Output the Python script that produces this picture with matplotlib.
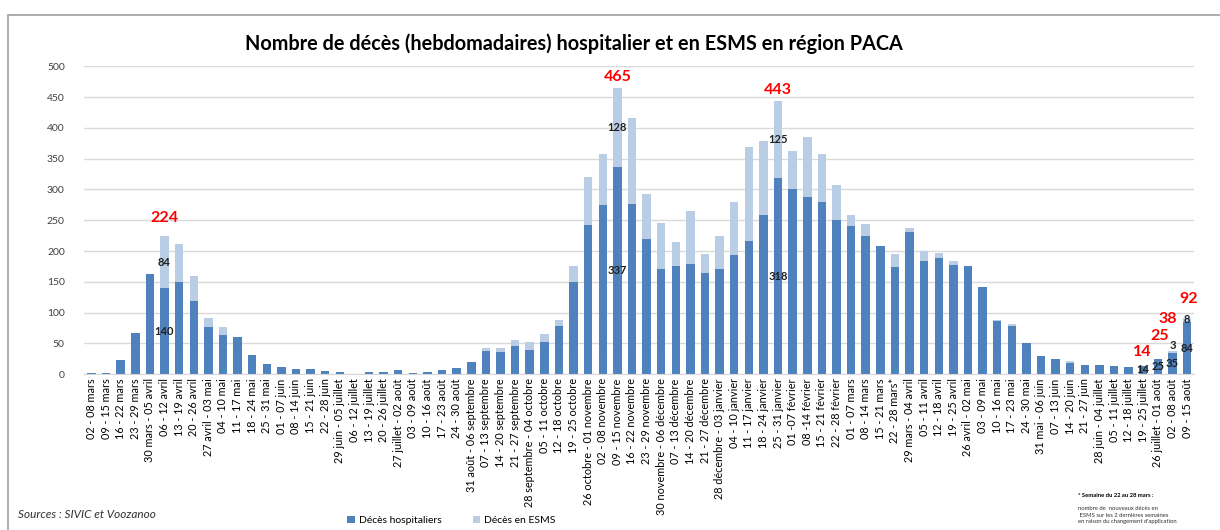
import matplotlib.pyplot as plt
from matplotlib.patches import Rectangle

plt.rcParams['font.family'] = ['Lato', 'DejaVu Sans']

semaines = [
    "02 - 08 mars", "09 - 15 mars", "16 - 22 mars", "23 - 29 mars", "30 mars - 05 avril",
    "06 - 12 avril", "13 - 19 avril", "20 - 26 avril", "27 avril - 03 mai", "04 - 10 mai",
    "11 - 17 mai", "18 - 24 mai", "25 - 31 mai", "01 - 07 juin", "08 - 14 juin",
    "15 - 21 juin", "22 - 28 juin", "29 juin - 05 juillet", "06 - 12 juillet", "13 - 19 juillet",
    "20 - 26 juillet", "27 juillet - 02 août", "03 - 09 août", "10 - 16 août", "17 - 23 août",
    "24 - 30 août", "31 août - 06 septembre", "07 - 13 septembre", "14 - 20 septembre",
    "21 - 27 septembre", "28 septembre - 04 octobre", "05 - 11 octobre", "12 - 18 octobre",
    "19 - 25 octobre", "26 octobre - 01 novembre", "02 - 08 novembre", "09 - 15 novembre",
    "16 - 22 novembre", "23 - 29 novembre", "30 novembre - 06 décembre", "07 - 13 décembre",
    "14 - 20 décembre", "21 - 27 décembre", "28 décembre - 03 janvier", "04 - 10 janvier",
    "11 - 17 janvier", "18 - 24 janvier", "25 - 31 janvier", "01 -07 février", "08 -14 février",
    "15 - 21 février", "22 - 28 février", "01 - 07 mars", "08 - 14 mars", "15 - 21 mars",
    "22 - 28 mars*", "29 mars - 04 avril", "05 - 11 avril", "12 - 18 avril", "19 - 25 avril",
    "26 avril - 02 mai", "03 - 09 mai", "10 - 16 mai", "17 - 23 mai", "24 - 30 mai",
    "31 mai - 06 juin", "07 - 13 juin", "14 - 20 juin", "21 - 27 juin", "28 juin - 04 juillet",
    "05 - 11 juillet", "12 - 18 juillet", "19 - 25 juillet", "26 juillet - 01 août",
    "02 - 08 août", "09 - 15 août",
]

hospitaliers = [
    2, 2, 23, 67, 163, 140, 149, 119, 77, 64,
    61, 31, 17, 12, 8, 9, 5, 3, 1, 4,
    3, 6, 2, 4, 6, 10, 19, 37, 36, 46,
    39, 53, 78, 149, 242, 275, 337, 277, 219, 171,
    176, 179, 165, 170, 194, 217, 258, 318, 300, 287,
    280, 251, 241, 224, 208, 174, 231, 183, 189, 178,
    176, 142, 87, 78, 51, 30, 25, 18, 15, 15,
    13, 11, 14, 25, 35, 84,
]

esms = [
    0, 0, 0, 0, 0, 84, 63, 41, 15, 13,
    0, 0, 0, 0, 0, 0, 0, 0, 0, 0,
    0, 0, 0, 0, 0, 0, 0, 6, 6, 9,
    13, 13, 10, 27, 78, 83, 128, 139, 73, 75,
    39, 86, 30, 54, 86, 152, 120, 125, 62, 98,
    78, 56, 17, 20, 0, 21, 7, 17, 8, 5,
    0, 0, 1, 4, 0, 0, 0, 4, 0, 0,
    0, 0, 0, 0, 3, 8,
]

# barres annotées (index), totaux en rouge
labelled = [5, 36, 47, 72, 73, 74, 75]
red_idx = [5, 36, 47, 72, 73, 74, 75]
red_vals = [224, 465, 443, 14, 25, 38, 92]

dark = '#4F81BD'
light = '#B9CDE5'

fig = plt.figure(figsize=(12.2, 5.3), dpi=100)
ax = fig.add_axes([0.069, 0.294, 0.910, 0.581])

x = list(range(len(semaines)))
ax.bar(x, hospitaliers, width=0.58, color=dark, label='Décès hospitaliers', zorder=2)
ax.bar(x, esms, width=0.58, bottom=hospitaliers, color=light, label='Décès en ESMS', zorder=2)

ax.set_xlim(-0.5, len(semaines) - 0.5)
ax.set_ylim(0, 500)
ax.set_yticks(range(0, 501, 50))
ax.yaxis.grid(True, color='#D9D9D9', linewidth=1, zorder=0)
ax.set_axisbelow(True)
for s in ['top', 'right', 'left']:
    ax.spines[s].set_visible(False)
ax.spines['bottom'].set_color('#D9D9D9')
ax.tick_params(axis='y', length=0, labelsize=7.5, labelcolor='#404040', pad=14)
ax.tick_params(axis='x', length=0, pad=3)
ax.set_xticks(x)
ax.set_xticklabels(semaines, rotation=90, fontsize=7.8)

# étiquettes de données
for i in labelled:
    h = hospitaliers[i]
    e = esms[i]
    ax.text(i, h / 2, str(h), ha='center', va='center', fontsize=8, fontweight='bold', color='#202020', zorder=3)
    if e > 0:
        ey = h + e / 2
        if e < 5:
            ey = h + 12
        ax.text(i, ey, str(e), ha='center', va='center', fontsize=8, fontweight='bold', color='#202020', zorder=3)

red_off = [30, 18, 18, 22, 37, 52, 30]
red_dx = [0, 0, 0, -0.1, 0.1, -0.3, 0.1]
for i, v, off, dx in zip(red_idx, red_vals, red_off, red_dx):
    ax.text(i + dx, v + off, str(v), ha='center', va='center', fontsize=11.5, fontweight='bold', color='#FF0000', zorder=3)

fig.text(0.47, 0.918, 'Nombre de décès (hebdomadaires) hospitalier et en ESMS en région PACA',
         ha='center', va='center', fontsize=14.3, fontweight='bold')

fig.text(0.015, 0.03, 'Sources : SIVIC et Voozanoo', fontsize=8.5, style='italic', ha='left', va='center', color='#303030')

fig.legend(loc='center', bbox_to_anchor=(0.37, 0.018), ncol=2, frameon=False, fontsize=7.5,
           handlelength=0.7, handleheight=0.7, columnspacing=3, handletextpad=0.4)

fig.text(0.884, 0.066, '* Semaine du 22 au 28 mars :', fontsize=4.2, fontweight='bold', ha='left', va='center')
fig.text(0.884, 0.028,
         'nombre de  nouveaux décès en\n ESMS sur les 2 dernières semaines\nen raison du changement d\'application',
         fontsize=4.2, ha='left', va='center', linespacing=1.3, color='#303030')

fig.patches.append(Rectangle((0.0066, -0.05), 1.1, 1.022, transform=fig.transFigure,
                             fill=False, edgecolor='#A0A0A0', linewidth=1.2))

fig.savefig('out.png', dpi=100)
